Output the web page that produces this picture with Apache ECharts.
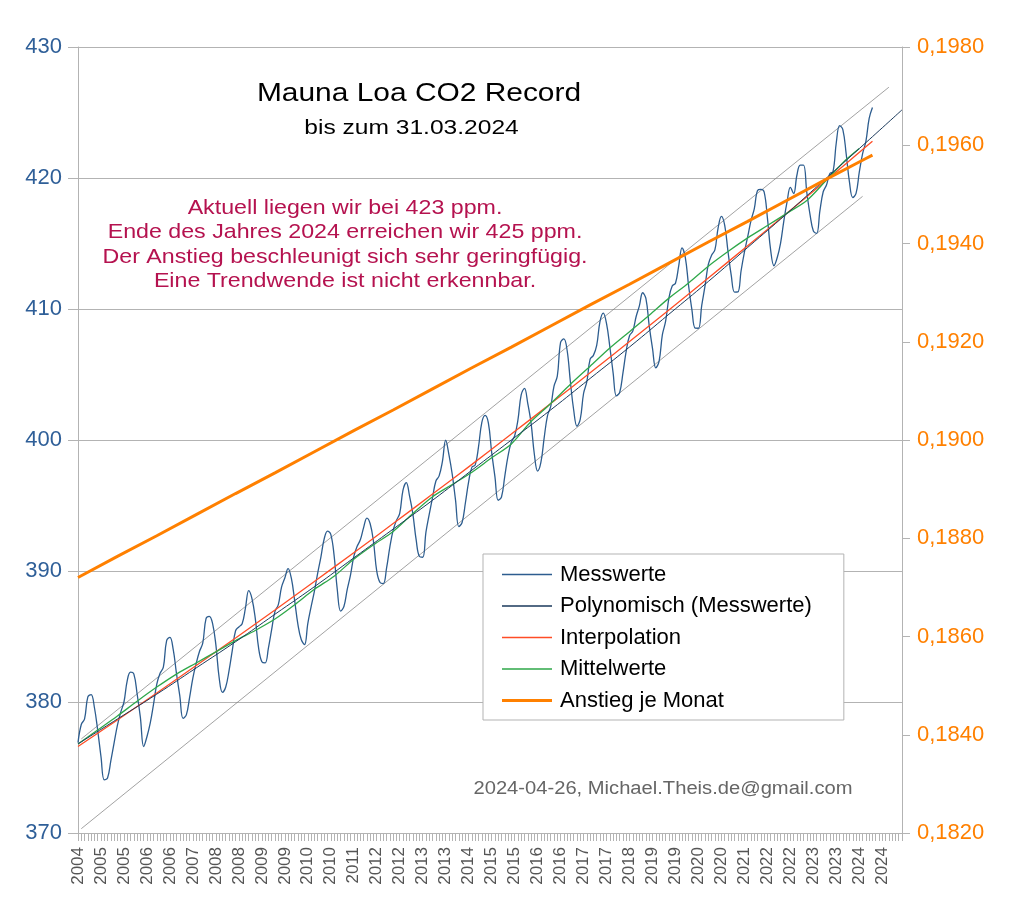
<!DOCTYPE html>
<html>
<head>
<meta charset="utf-8">
<script src="https://cdn.jsdelivr.net/npm/echarts@6/dist/echarts.min.js"></script>
<style>
html,body{margin:0;padding:0;background:#fff;}
#chart{width:1029px;height:916px;}
</style>
</head>
<body>
<div id="chart"></div>
<script>
// ---- Data ----
// Monthly categories Jan 2004 .. Dec 2024
const categories = [];
for (let y = 2004; y <= 2024; y++) for (let m = 1; m <= 12; m++) categories.push(y + '-' + (m < 10 ? '0' + m : m));

// Tick labels shown every 7th category (as printed in the reference)
const xTickLabels = ['2004','2005','2005','2006','2006','2007','2008','2008','2009','2009','2010','2010','2011','2012','2012','2013','2013','2014','2015','2015','2016','2016','2017','2017','2018','2019','2019','2020','2020','2021','2022','2022','2023','2023','2024','2024'];

// Messwerte: monthly CO2 (ppm), Jan 2004 .. Mar 2024
const messwerte = [
 376.9,378.28,378.71,380.39,380.57,379.58,377.84,375.83,374.06,374.20,375.51,376.88,
 378.21,379.21,380.00,381.64,382.28,382.15,380.63,378.83,376.60,377.35,378.38,379.82,
 381.36,382.19,382.66,384.69,384.93,384.01,382.17,380.48,378.75,379.02,380.36,381.85,
 382.94,383.86,384.49,386.37,386.54,385.98,384.36,381.85,380.74,381.15,382.38,383.94,
 385.44,385.73,385.97,387.16,388.50,387.88,386.38,384.15,383.07,382.98,384.11,385.54,
 386.92,387.41,388.77,389.46,390.18,389.43,387.74,385.91,384.77,384.38,385.99,387.26,
 388.45,389.82,391.08,392.46,393.05,392.80,391.21,388.53,386.94,387.29,388.57,389.68,
 391.09,391.87,392.38,393.31,394.04,393.61,392.26,389.99,389.12,389.04,390.23,391.84,
 393.12,393.86,394.40,396.18,396.74,395.71,394.36,392.39,391.11,391.05,392.98,394.34,
 395.61,396.85,397.26,398.35,399.98,398.87,397.37,395.41,393.39,393.70,395.19,396.82,
 397.93,398.10,399.47,401.33,401.88,401.31,399.07,397.21,395.40,395.65,397.23,398.79,
 399.85,400.31,401.51,403.45,403.94,402.80,401.31,398.93,397.63,398.29,400.16,401.85,
 402.56,404.12,404.87,407.45,407.72,406.83,404.41,402.27,401.05,401.59,403.55,404.45,
 406.17,406.46,407.22,409.04,409.69,408.88,407.12,405.13,403.37,403.63,405.12,406.81,
 407.96,408.32,409.41,410.24,411.24,410.79,408.71,406.99,405.51,406.00,408.02,409.07,
 410.83,411.75,411.97,413.32,414.66,413.92,411.77,409.95,408.54,408.53,410.27,411.76,
 413.40,414.11,414.51,416.21,417.07,416.38,414.38,412.55,411.29,411.30,412.94,414.34,
 415.52,416.75,417.64,419.05,419.13,418.94,416.96,414.47,413.30,413.93,415.01,416.71,
 418.19,419.28,418.81,420.23,420.99,420.99,418.90,417.19,415.95,415.78,417.51,418.95,
 419.47,420.33,420.51,422.73,424.00,423.68,421.83,419.68,418.51,418.82,420.46,421.86,
 422.80,424.55,425.38
];

// Polynomisch (Messwerte): trend line sampled yearly (category index -> ppm)
const polyIdx  = [0,12,24,36,48,60,72,84,96,108,120,132,144,156,168,180,192,204,216,228,240,251];
const polyVals = [376.8,378.7,380.6,382.6,384.6,386.7,388.8,391.0,393.2,395.4,397.7,400.0,402.3,404.7,407.1,409.6,412.1,414.7,417.3,420.0,422.7,425.2];

// Interpolation
const interpIdx  = [0,12,24,36,48,60,72,84,96,108,120,132,144,156,168,180,192,204,216,228,240,242];
const interpVals = [376.6,378.63,380.69,382.78,384.89,387.03,389.20,391.40,393.62,395.87,398.14,400.45,402.78,405.13,407.52,409.93,412.37,414.83,417.32,419.84,422.39,422.81];

// Mittelwerte (half-yearly samples)
const mittelIdx  = [0,6,12,18,24,30,36,42,48,54,60,66,72,78,84,90,96,102,108,114,120,126,132,138,144,150,156,162,168,174,180,186,192,198,204,210,216,222,228,234,238];
const mittelVals = [376.8,377.86,378.93,380.06,381.14,382.13,382.98,383.83,384.69,385.46,386.33,387.42,388.60,389.60,390.90,392.00,393.02,394.39,395.67,396.60,397.54,398.64,399.70,401.41,402.78,404.25,405.63,407.02,408.27,409.52,410.83,411.99,413.27,414.39,415.43,416.37,417.32,418.28,419.84,421.41,422.26];

// Anstieg je Monat (right axis, ppm per month), yearly samples
const anstiegIdx  = [0,12,24,36,48,60,72,84,96,108,120,132,144,156,168,180,192,204,216,228,240,242];
const anstiegVals = [0.18720,0.18763,0.18805,0.18848,0.18891,0.18933,0.18976,0.19019,0.19061,0.19104,0.19147,0.19189,0.19232,0.19275,0.19317,0.19360,0.19403,0.19445,0.19488,0.19531,0.19573,0.19580];

// Channel lines (grey)
const upperIdx = [1, 247];
const upperVals = [377.18, 426.93];
const lowerIdx = [1, 239];
const lowerVals = [370.33, 418.6];

const leftTicks = { min: 370, max: 430, interval: 10 };
const rightTicks = { min: 0.182, max: 0.198, interval: 0.002 };

// ---- Chart ----
const pairs = (idx, vals) => idx.map((t, i) => [t, vals[i]]);
const FONT = 'Liberation Sans';
const C_MESS = '#2d5d8f', C_POLY = '#1b3a5c', C_INT = '#ff4d26', C_MIT = '#2fa84a', C_ANS = '#ff8000';
// legend line icons: thin (1.5px of 3) and thick (full 3px)
const THIN = 'path://M0,0.75h50v1.5h-50z M0,0h0.01v3h-0.01z';
const THICK = 'path://M0,0h50v3h-50z';
const legendItem = (name, icon, color) => ({
  name, icon,
  itemStyle: { color: color, borderWidth: 0, opacity: 1 },
  lineStyle: { color: color, width: 0 }
});
const chart = echarts.init(document.getElementById('chart'), null, { renderer: 'canvas' });

const option = {
  animation: false,
  backgroundColor: '#ffffff',
  textStyle: { fontFamily: FONT },
  grid: { left: 78, right: 127, top: 47, bottom: 83, containLabel: false },
  legend: {
    data: [
      legendItem('Messwerte', THIN, C_MESS),
      legendItem('Polynomisch (Messwerte)', THIN, C_POLY),
      legendItem('Interpolation', THIN, C_INT),
      legendItem('Mittelwerte', THIN, C_MIT),
      legendItem('Anstieg je Monat', THICK, C_ANS)
    ],
    orient: 'vertical',
    left: 483, top: 554,
    padding: [9, 32, 8, 19],
    itemWidth: 50, itemHeight: 3, itemGap: 8.5,
    borderColor: '#b3b3b3', borderWidth: 1, backgroundColor: '#ffffff',
    textStyle: { fontFamily: FONT, fontSize: 22, color: '#000', lineHeight: 23, padding: [0, 0, 0, 3] },
    selectedMode: false
  },
  xAxis: {
    type: 'category',
    data: categories,
    boundaryGap: false,
    axisLine: { lineStyle: { color: '#b3b3b3' } },
    axisTick: { show: true, interval: 0, length: 8, lineStyle: { color: '#b3b3b3' } },
    axisLabel: {
      interval: 6, rotate: 90, margin: 14,
      fontFamily: FONT, fontSize: 17, color: '#555',
      formatter: (v, i) => xTickLabels[Math.round(i / 7)] || ''
    },
    splitLine: { show: false }
  },
  yAxis: [
    {
      type: 'value', position: 'left',
      min: leftTicks.min, max: leftTicks.max, interval: leftTicks.interval,
      axisLine: { show: true, lineStyle: { color: '#b3b3b3' } },
      axisTick: { show: true, length: 10, lineStyle: { color: '#b3b3b3' } },
      axisLabel: { fontFamily: FONT, fontSize: 22, color: '#2f5f98', margin: 16 },
      splitLine: { show: true, lineStyle: { color: '#b3b3b3', width: 1 } }
    },
    {
      type: 'value', position: 'right',
      min: rightTicks.min, max: rightTicks.max, interval: rightTicks.interval,
      axisLine: { show: true, lineStyle: { color: '#b3b3b3' } },
      axisTick: { show: true, length: 8, lineStyle: { color: '#b3b3b3' } },
      axisLabel: { fontFamily: FONT, fontSize: 22, color: '#ff8000', margin: 15,
        formatter: v => v.toFixed(4).replace('.', ',') },
      splitLine: { show: false }
    }
  ],
  series: [
    { name: 'Messwerte', type: 'line', data: messwerte, smooth: 0.4, symbol: 'none',
      lineStyle: { color: C_MESS, width: 1.3 }, itemStyle: { color: C_MESS }, z: 2 },
    { name: 'upper', type: 'line', data: pairs(upperIdx, upperVals), symbol: 'none',
      lineStyle: { color: '#7a7a7a', width: 0.7 }, itemStyle: { color: '#7a7a7a' }, z: 1 },
    { name: 'lower', type: 'line', data: pairs(lowerIdx, lowerVals), symbol: 'none',
      lineStyle: { color: '#7a7a7a', width: 0.7 }, itemStyle: { color: '#7a7a7a' }, z: 1 },
    { name: 'Interpolation', type: 'line', data: pairs(interpIdx, interpVals), smooth: true, symbol: 'none',
      lineStyle: { color: C_INT, width: 1.3 }, itemStyle: { color: C_INT }, z: 3 },
    { name: 'Mittelwerte', type: 'line', data: pairs(mittelIdx, mittelVals), smooth: 0.3, symbol: 'none',
      lineStyle: { color: C_MIT, width: 1.3 }, itemStyle: { color: C_MIT }, z: 4 },
    { name: 'Polynomisch (Messwerte)', type: 'line', data: pairs(polyIdx, polyVals), smooth: true, symbol: 'none',
      lineStyle: { color: C_POLY, width: 1 }, itemStyle: { color: C_POLY }, z: 5 },
    { name: 'Anstieg je Monat', type: 'line', yAxisIndex: 1, data: pairs(anstiegIdx, anstiegVals), symbol: 'none',
      lineStyle: { color: C_ANS, width: 3 }, itemStyle: { color: C_ANS }, z: 6 }
  ],
  graphic: [
    { type: 'text', x: 419, y: 94, scaleX: 1.15, z: 100,
      style: { text: 'Mauna Loa CO2 Record', font: '26px "Liberation Sans"', fill: '#000', textAlign: 'center', textVerticalAlign: 'middle' } },
    { type: 'text', x: 411.5, y: 128, scaleX: 1.17, z: 100,
      style: { text: 'bis zum 31.03.2024', font: '21px "Liberation Sans"', fill: '#000', textAlign: 'center', textVerticalAlign: 'middle' } },
    { type: 'text', x: 345, y: 208, scaleX: 1.105, z: 100,
      style: { text: 'Aktuell liegen wir bei 423 ppm.', font: '21px "Liberation Sans"', fill: '#b5124f', textAlign: 'center', textVerticalAlign: 'middle' } },
    { type: 'text', x: 345, y: 232.5, scaleX: 1.105, z: 100,
      style: { text: 'Ende des Jahres 2024 erreichen wir 425 ppm.', font: '21px "Liberation Sans"', fill: '#b5124f', textAlign: 'center', textVerticalAlign: 'middle' } },
    { type: 'text', x: 345, y: 257, scaleX: 1.105, z: 100,
      style: { text: 'Der Anstieg beschleunigt sich sehr geringfügig.', font: '21px "Liberation Sans"', fill: '#b5124f', textAlign: 'center', textVerticalAlign: 'middle' } },
    { type: 'text', x: 345, y: 281, scaleX: 1.105, z: 100,
      style: { text: 'Eine Trendwende ist nicht erkennbar.', font: '21px "Liberation Sans"', fill: '#b5124f', textAlign: 'center', textVerticalAlign: 'middle' } },
    { type: 'text', x: 663, y: 789, scaleX: 1.12, z: 100,
      style: { text: '2024-04-26, Michael.Theis.de@gmail.com', font: '18px "Liberation Sans"', fill: '#666', textAlign: 'center', textVerticalAlign: 'middle' } }
  ]
};
chart.setOption(option);
</script>
</body>
</html>
